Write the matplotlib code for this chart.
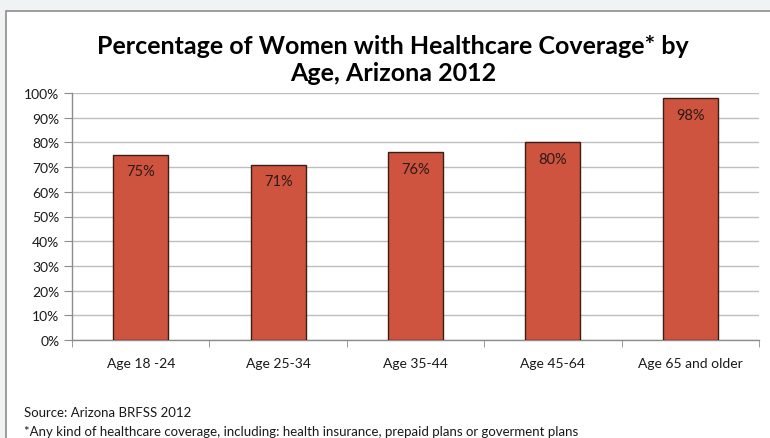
import matplotlib
matplotlib.use("Agg")
import matplotlib.pyplot as plt
from matplotlib.patches import Rectangle
from matplotlib.ticker import FixedLocator, PercentFormatter

categories = ["Age 18 -24", "Age 25-34", "Age 35-44", "Age 45-64", "Age 65 and older"]
values = [75, 71, 76, 80, 98]
yticks = [0, 10, 20, 30, 40, 50, 60, 70, 80, 90, 100]

plt.rcParams['font.family'] = ['Lato', 'DejaVu Sans']

W, H = 770, 439
fig = plt.figure(figsize=(W/100, H/100), dpi=100, facecolor='#F0F3F4')

# white chart area with border
bg = Rectangle((6/W, -0.1), 1.0, (H-12)/H + 0.1, transform=fig.transFigure,
               facecolor='white', edgecolor='#8C8C8C', linewidth=1.2, zorder=-10)
fig.patches.append(bg)

ax = fig.add_axes([72/W, (H-341)/H, 687/W, (341-94)/H])
ax.set_zorder(1)
ax.set_facecolor('none')
x = list(range(len(categories)))
bars = ax.bar(x, values, width=0.4, color='#CF5440', edgecolor='#3A1E16', linewidth=1.0, zorder=3)
for b, v in zip(bars, values):
    ax.annotate(f"{v}%", (b.get_x() + b.get_width() / 2, v), xytext=(0, -12),
                textcoords='offset points', ha='center', va='center',
                fontsize=10.5, color='#2B1A14', zorder=4)

ax.set_xlim(-0.5, len(categories) - 0.5)
ax.set_ylim(0, 100)
ax.set_yticks(yticks)
ax.yaxis.set_major_formatter(PercentFormatter(decimals=0))
ax.set_xticks(x)
ax.set_xticklabels(categories)
ax.xaxis.set_minor_locator(FixedLocator([i - 0.5 for i in range(len(categories) + 1)]))
ax.tick_params(axis='x', which='major', length=0, pad=12, labelsize=10, labelcolor='#1a1a1a')
ax.tick_params(axis='x', which='minor', length=5, color='#8C8C8C', direction='out')
ax.tick_params(axis='y', length=6, color='#8C8C8C', direction='out', labelsize=10, labelcolor='#1a1a1a', pad=3)
ax.grid(axis='y', color='#BEBEBE', linewidth=1.0, zorder=0)
ax.set_axisbelow(True)
for s in ['top', 'right']:
    ax.spines[s].set_visible(False)
for s in ['left', 'bottom']:
    ax.spines[s].set_color('#8C8C8C')
    ax.spines[s].set_linewidth(1.0)

fig.text(393/W, 1 - 60/H, "Percentage of Women with Healthcare Coverage* by\nAge, Arizona 2012",
         ha='center', va='center', fontsize=18, fontweight='bold', color='black', linespacing=1.2)

fig.text(24/W, 1 - 413/H, "Source: Arizona BRFSS 2012", ha='left', va='center', fontsize=9.5, color='#1a1a1a')
fig.text(24/W, 1 - 432/H, "*Any kind of healthcare coverage, including: health insurance, prepaid plans or goverment plans",
         ha='left', va='center', fontsize=9.5, color='#1a1a1a')

fig.savefig("out.png", dpi=100, facecolor=fig.get_facecolor())
